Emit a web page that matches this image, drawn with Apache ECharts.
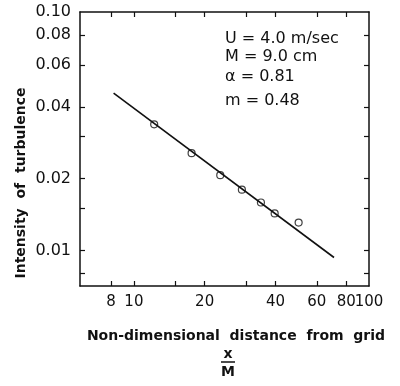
<!DOCTYPE html>
<html>
<head>
<meta charset="utf-8">
<script src="https://cdn.jsdelivr.net/npm/echarts@6/dist/echarts.min.js"></script>
<style>
  html, body { margin: 0; padding: 0; background: #fff; }
  #chart { width: 400px; height: 386px; }
</style>
</head>
<body>
<div id="chart"></div>
<script>
// Measured decay of turbulence intensity behind a grid (x/M vs u'/U)
const measuredX = [12.2, 17.6, 23.3, 28.8, 34.7, 39.7, 50.2];
const measuredY = [0.0338, 0.0256, 0.0207, 0.0180, 0.0159, 0.0143, 0.0131];

// Fitted power-law line, end points
const fitX = [8.2, 71];
const fitY = [0.0457, 0.00935];

// Axis tick and label positions (x labels are split over two label rows
// sharing the same place, because 80 and 100 sit almost edge to edge)
const xLabelValuesA = [8, 20, 60, 100];
const xLabelValuesB = [10, 40, 80];
const xTickValues = [8, 10, 15, 20, 30, 40, 60, 80];
const yLabelValues = [0.01, 0.02, 0.04, 0.06, 0.08, 0.1];
const yTickValues = [0.008, 0.01, 0.015, 0.02, 0.03, 0.04, 0.06, 0.08];

// Experimental conditions
const conditions = ['U = 4.0 m/sec', 'M = 9.0 cm', '\u03b1 = 0.81', 'm = 0.48'];

const FONT = 'DejaVu Sans';
const INK = '#111';
const X_MIN = 5.9, X_MAX = 100;
const Y_MIN = 0.0071, Y_MAX = 0.1;

const chart = echarts.init(document.getElementById('chart'), null, { renderer: 'canvas' });

const axisLine = { show: true, lineStyle: { color: INK, width: 1.5 } };
const gridBox = { left: 80, right: 31, top: 12, bottom: 100, containLabel: false };

// keep edge labels inside the numeric extent of the log scale
const clampX = v => Math.min(Math.max(v, X_MIN * 1.0001), X_MAX * 0.9999);
const clampY = v => Math.min(Math.max(v, Y_MIN * 1.0001), Y_MAX * 0.9999);

const noSplit = { splitLine: { show: false }, minorTick: { show: false }, minorSplitLine: { show: false } };

function xAxisDef(gridIndex, pos, labels, drawLine) {
  return Object.assign({
    type: 'log', gridIndex, position: pos, min: X_MIN, max: X_MAX,
    axisLine: drawLine ? axisLine : { show: false },
    axisTick: { show: drawLine, inside: true, length: 5, customValues: xTickValues, lineStyle: { color: INK, width: 1.2 } },
    axisLabel: {
      show: !!labels, customValues: (labels || []).map(clampX), margin: 9,
      hideOverlap: false,
      fontFamily: FONT, fontSize: 15, color: INK,
      formatter: v => String(Math.round(v))
    }
  }, noSplit);
}
function yAxisDef(gridIndex, pos, showLabels, drawLine) {
  return Object.assign({
    type: 'log', gridIndex, position: pos, min: Y_MIN, max: Y_MAX,
    axisLine: drawLine ? axisLine : { show: false },
    axisTick: { show: drawLine, inside: true, length: 5, customValues: yTickValues, lineStyle: { color: INK, width: 1.2 } },
    axisLabel: {
      show: showLabels, customValues: yLabelValues.map(clampY), margin: 9,
      hideOverlap: false, showMinLabel: true, showMaxLabel: true,
      fontFamily: FONT, fontSize: 16, color: INK,
      formatter: v => Number(v).toFixed(2)
    }
  }, noSplit);
}

chart.setOption({
  backgroundColor: '#fff',
  animation: false,
  grid: [Object.assign({}, gridBox), Object.assign({}, gridBox)],
  xAxis: [
    xAxisDef(0, 'bottom', xLabelValuesA, true),
    xAxisDef(0, 'top', null, true),
    xAxisDef(1, 'bottom', xLabelValuesB, false)
  ],
  yAxis: [
    yAxisDef(0, 'left', true, true),
    yAxisDef(0, 'right', false, true),
    yAxisDef(1, 'left', false, false)
  ],
  series: [
    {
      type: 'line', xAxisIndex: 0, yAxisIndex: 0,
      data: fitX.map((x, i) => [x, fitY[i]]),
      showSymbol: false, symbol: 'none',
      lineStyle: { color: INK, width: 1.6 }
    },
    {
      type: 'scatter', xAxisIndex: 0, yAxisIndex: 0,
      data: measuredX.map((x, i) => [x, measuredY[i]]),
      symbol: 'circle', symbolSize: 7,
      itemStyle: { color: 'rgba(255,255,255,0)', borderColor: INK, borderWidth: 1.2 }
    }
  ],
  graphic: [
    {
      type: 'text', x: 21, y: 183, rotation: Math.PI / 2,
      style: { text: 'Intensity  of  turbulence', fontFamily: FONT, fontSize: 14, fontWeight: 'bold', fill: INK, align: 'center', verticalAlign: 'middle' }
    },
    {
      type: 'text', x: 236, y: 336,
      style: { text: 'Non-dimensional  distance  from  grid', fontFamily: FONT, fontSize: 14, fontWeight: 'bold', fill: INK, align: 'center', verticalAlign: 'middle' }
    },
    {
      type: 'text', x: 228, y: 354,
      style: { text: 'x', fontFamily: FONT, fontSize: 14, fontWeight: 'bold', fill: INK, align: 'center', verticalAlign: 'middle' }
    },
    {
      type: 'line', shape: { x1: 221, y1: 362, x2: 235, y2: 362 },
      style: { stroke: INK, lineWidth: 1.5 }
    },
    {
      type: 'text', x: 228, y: 372,
      style: { text: 'M', fontFamily: FONT, fontSize: 14, fontWeight: 'bold', fill: INK, align: 'center', verticalAlign: 'middle' }
    },
    ...conditions.map((t, i) => ({
      type: 'text', x: 225, y: [39, 57, 77, 101][i],
      style: { text: t, fontFamily: FONT, fontSize: 16, fill: INK, verticalAlign: 'middle' }
    }))
  ]
});
</script>
</body>
</html>
